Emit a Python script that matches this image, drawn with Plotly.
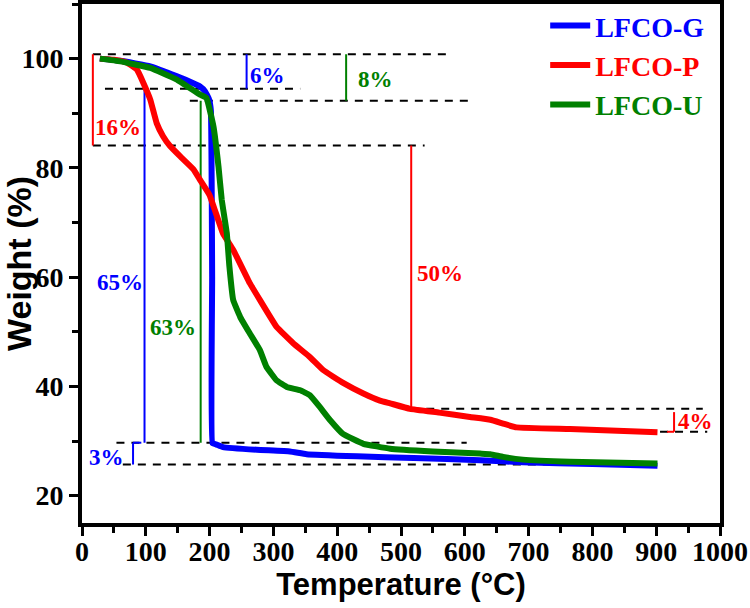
import plotly.graph_objects as go

# ---- data ----
g_temp = [28, 60, 107, 148, 185, 193, 199, 202, 204, 204.5, 210, 221, 274, 326, 352, 431, 520, 624, 691, 800, 902]
g_weight = [100, 99.6, 98.6, 96.8, 94.9, 94.0, 92.6, 90.5, 60.0, 29.6, 29.4, 28.9, 28.4, 28.1, 27.6, 27.2, 26.9, 26.5, 26.1, 25.8, 25.5]

p_temp = [28, 50, 70, 86, 96, 107, 117, 127, 138, 154, 175, 185, 200, 221, 237, 263, 279, 305, 331, 357,
          378, 410, 441, 467, 483, 514, 560, 608, 640, 660, 681, 765, 902]
p_weight = [100, 99.8, 99.3, 98.0, 95.6, 92.5, 88.2, 85.8, 84.0, 82.1, 79.7, 77.8, 75.0, 68.0, 65.0, 58.9, 55.8, 50.9, 47.9, 45.4,
            43.0, 40.6, 38.7, 37.4, 36.9, 35.9, 35.2, 34.4, 33.9, 33.2, 32.5, 32.2, 31.6]

u_temp = [28, 60, 107, 148, 185, 195, 206, 214, 219, 227, 231, 237, 248, 263, 279, 289, 305, 321, 342, 357,
          373, 389, 409, 441, 483, 550, 624, 640, 660, 691, 765, 902]
u_weight = [100, 99.5, 98.3, 96.2, 93.4, 92.8, 87.6, 80.2, 74.2, 68.0, 62.0, 55.8, 52.7, 49.7, 46.6, 43.6, 41.1, 39.9, 39.3, 38.4,
            36.2, 33.8, 31.3, 29.5, 28.6, 28.1, 27.7, 27.6, 27.1, 26.6, 26.2, 25.9]

series_names = ["LFCO-G", "LFCO-P", "LFCO-U"]
series_colors = ["#0000FF", "#FF0000", "#008000"]

# guide lines: dashed horizontal levels (weight, T start, T end)
dash_level = [100.8, 94.5, 92.3, 84.1, 35.9, 31.7, 29.7, 25.7]
dash_start = [17, 36, 169, 17, 516, 859, 54, 64]
dash_end = [580, 342, 608, 537, 973, 980, 603, 817]

# solid marker segments (T0, W0, T1, W1, color index)
seg_t0 = [17, 258, 98, 80, 80, 414, 186, 516, 928, 917]
seg_w0 = [100.8, 100.8, 95.5, 29.7, 29.7, 100.8, 92.3, 84.1, 35.3, 31.7]
seg_t1 = [17, 258, 98, 80, 93, 414, 186, 516, 928, 928]
seg_w1 = [84.1, 94.5, 29.7, 25.7, 29.7, 92.3, 29.7, 35.9, 31.7, 31.7]
seg_color = [1, 0, 0, 0, 0, 2, 2, 1, 1, 1]

# percentage labels
lab_text = ["16%", "6%", "8%", "65%", "63%", "50%", "3%", "4%"]
lab_t = [57, 291, 460, 60, 142, 561, 38, 962]
lab_w = [87.4, 96.9, 96.2, 59.1, 50.7, 60.7, 27.0, 33.6]
lab_color = [1, 0, 2, 0, 2, 1, 0, 1]

x_ticks = list(range(0, 1001, 100))
y_ticks = [20, 40, 60, 80, 100]

serif = "Times New Roman, Liberation Serif, serif"
sans = "Arial, Liberation Sans, sans-serif"

fig = go.Figure()

# dashed guide lines
dx, dy = [], []
for lv, a, b in zip(dash_level, dash_start, dash_end):
    dx += [a, b, None]
    dy += [lv, lv, None]
fig.add_trace(go.Scatter(x=dx, y=dy, mode="lines", line=dict(color="black", width=2, dash="8px,7px"),
                         showlegend=False, hoverinfo="skip"))

# coloured segments
for ci, col in enumerate(series_colors):
    sx, sy = [], []
    for t0, w0, t1, w1, c in zip(seg_t0, seg_w0, seg_t1, seg_w1, seg_color):
        if c == ci:
            sx += [t0, t1, None]
            sy += [w0, w1, None]
    fig.add_trace(go.Scatter(x=sx, y=sy, mode="lines", line=dict(color=col, width=2),
                             showlegend=False, hoverinfo="skip"))

# main curves
for name, col, tx, wy in zip(series_names, series_colors, [g_temp, p_temp, u_temp], [g_weight, p_weight, u_weight]):
    fig.add_trace(go.Scatter(x=tx, y=wy, mode="lines", line=dict(color=col, width=6, shape="spline", smoothing=0.3),
                             name='<span style="color:%s"><b>%s</b></span>' % (col, name)))

for txt, t, w, c in zip(lab_text, lab_t, lab_w, lab_color):
    fig.add_annotation(x=t, y=w, text="<b>%s</b>" % txt, showarrow=False,
                       font=dict(family=serif, size=23, color=series_colors[c]))

fig.update_layout(
    width=750, height=608,
    margin=dict(l=82, r=30, t=4, b=85, autoexpand=False),
    plot_bgcolor="white", paper_bgcolor="white",
    showlegend=True,
    legend=dict(x=0.726, y=1.006, xanchor="left", yanchor="top", bgcolor="rgba(0,0,0,0)",
                font=dict(family=serif, size=28), itemwidth=40, tracegroupgap=0),
)
fig.update_xaxes(range=[0, 1000], tickvals=x_ticks, ticktext=["<b>%d</b>" % v for v in x_ticks],
                 automargin=False, ticklabelstandoff=-9,
                 showgrid=False, zeroline=False, showline=True, linecolor="black", linewidth=4, mirror=True,
                 ticks="outside", ticklen=9, tickwidth=3, tickcolor="black",
                 minor=dict(dtick=50, ticks="outside", ticklen=6, tickwidth=3, tickcolor="black", showgrid=False),
                 tickfont=dict(family=serif, size=28, color="black"),
                 title=dict(text="<b>Temperature (°C)</b>", font=dict(family=sans, size=31, color="black"), standoff=0))
fig.update_yaxes(range=[15, 110], tickvals=y_ticks, ticktext=["<b>%d</b>" % v for v in y_ticks],
                 automargin=False,
                 showgrid=False, zeroline=False, showline=True, linecolor="black", linewidth=4, mirror=True,
                 ticks="outside", ticklen=9, tickwidth=3, tickcolor="black",
                 minor=dict(dtick=10, ticks="outside", ticklen=6, tickwidth=3, tickcolor="black", showgrid=False),
                 tickfont=dict(family=serif, size=28, color="black"),
                 title=dict(text="<b>Weight (%)</b>", font=dict(family=sans, size=34, color="black"), standoff=6))

fig.write_html("out.html", config={"displayModeBar": False},
               post_script="document.body.style.margin='0px';")
